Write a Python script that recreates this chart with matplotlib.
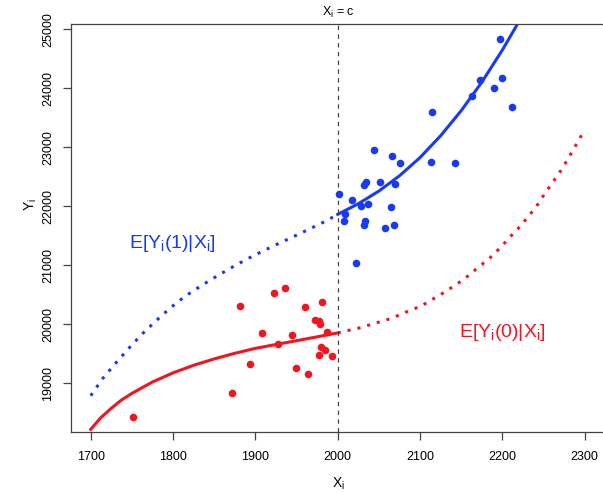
import matplotlib.pyplot as plt

plt.rcParams['font.family'] = ['Liberation Sans', 'DejaVu Sans']
plt.rcParams['mathtext.fontset'] = 'custom'
plt.rcParams['mathtext.rm'] = 'Liberation Sans'
plt.rcParams['mathtext.it'] = 'Liberation Sans'

# observations above the cutoff (treated)
blue_x = [2044, 2066, 2076, 2113, 2143, 2034, 2032, 2051, 2069, 2002,
          2017, 2028, 2037, 2065, 2009, 2008, 2033, 2032, 2057, 2068,
          2022, 2197, 2173, 2200, 2190, 2163, 2212, 2114]
blue_y = [22954, 22847, 22729, 22756, 22729, 22417, 22361, 22412, 22378, 22203,
          22102, 22005, 22034, 21983, 21864, 21756, 21756, 21688, 21637, 21688,
          21034, 24836, 24141, 24169, 24005, 23864, 23678, 23603]

# observations below the cutoff (control)
red_x = [1751, 1872, 1881, 1923, 1936, 1908, 1894, 1928, 1944, 1949,
         1960, 1964, 1981, 1972, 1977, 1978, 1987, 1980, 1985, 1977, 1993]
red_y = [18429, 18836, 20315, 20531, 20610, 19847, 19332, 19661, 19819, 19254,
         20298, 19158, 20378, 20068, 20056, 20000, 19869, 19620, 19559, 19480, 19458]

# E[Y(1)|X] : dotted left of c, solid right of c
blue_dot_x = [1700, 1714, 1729, 1745, 1762, 1779, 1796, 1815, 1836, 1856,
              1877, 1900, 1930, 1942, 1963, 1984, 2000]
blue_dot_y = [18790, 19073, 19322, 19576, 19831, 20056, 20271, 20480, 20671, 20841,
              21010, 21180, 21383, 21458, 21598, 21739, 21864]
blue_sol_x = [2000, 2025, 2050, 2075, 2100, 2125, 2150, 2175, 2200, 2219]
blue_sol_y = [21864, 22044, 22259, 22517, 22827, 23197, 23622, 24105, 24650, 25106]

# E[Y(0)|X] : solid left of c, dotted right of c
red_sol_x = [1700, 1712, 1725, 1737, 1750, 1775, 1800, 1825, 1850, 1875,
             1900, 1925, 1950, 1975, 2000]
red_sol_y = [18220, 18415, 18578, 18714, 18830, 19023, 19178, 19306, 19414, 19509,
             19593, 19658, 19723, 19788, 19855]
red_dot_x = [2000, 2011, 2023, 2034, 2046, 2058, 2069, 2080, 2091, 2102,
             2112, 2123, 2133, 2143, 2153, 2162, 2171, 2181, 2190, 2198,
             2206, 2214, 2223, 2230, 2238, 2245, 2251, 2258, 2265, 2272,
             2278, 2284, 2290, 2296]
red_dot_y = [19855, 19892, 19925, 19971, 20022, 20068, 20124, 20192, 20254, 20315,
             20400, 20485, 20576, 20666, 20763, 20864, 20971, 21078, 21192, 21310,
             21429, 21553, 21678, 21807, 21937, 22073, 22208, 22344, 22485, 22627,
             22768, 22908, 23056, 23203]

cutoff = 2000
xticks = [1700, 1800, 1900, 2000, 2100, 2200, 2300]
yticks = [19000, 20000, 21000, 22000, 23000, 24000, 25000]

BLUE = '#1a3af2'
RED = '#f2141e'

fig = plt.figure(figsize=(6.03, 4.93), dpi=100)
ax = fig.add_axes([71/603, 61/493, 533.5/603, 408/493])

ax.plot(blue_dot_x, blue_dot_y, c=BLUE, lw=2.2, ls=(0, (1, 2.3)))
ax.plot(blue_sol_x, blue_sol_y, c=BLUE, lw=2.2)
ax.plot(red_sol_x, red_sol_y, c=RED, lw=2.2)
ax.plot(red_dot_x, red_dot_y, c=RED, lw=2.2, ls=(0, (1, 2.3)))

ax.scatter(blue_x, blue_y, s=30, c=BLUE, lw=0, zorder=3)
ax.scatter(red_x, red_y, s=30, c=RED, lw=0, zorder=3)

ax.axvline(cutoff, c='#444444', lw=0.9, ls=(0, (3.5, 3.5)))

ax.text(1799, 21378, r'E[Y$_\mathregular{i}$(1)|X$_\mathregular{i}$]', color=BLUE,
        fontsize=14, ha='center', va='center')
ax.text(2200, 19853, r'E[Y$_\mathregular{i}$(0)|X$_\mathregular{i}$]', color=RED,
        fontsize=14, ha='center', va='center')

ax.set_xlim(1676, 2324)
ax.set_ylim(18175, 25090)
ax.set_xticks(xticks)
ax.set_yticks(yticks)
ax.tick_params(axis='both', labelsize=9, length=6, width=0.9, color='#444444')
ax.tick_params(axis='x', pad=8)
ax.tick_params(axis='y', pad=6)
for lab in ax.get_yticklabels():
    lab.set_rotation(90)
    lab.set_va('center')
for sp in ax.spines.values():
    sp.set_color('#444444')
    sp.set_linewidth(0.9)
ax.spines['right'].set_visible(False)

fig.text(338/603, 1 - 12/493, r'X$_\mathregular{i}$ = c', fontsize=9, ha='center', va='center')
fig.text(338/603, 1 - 484/493, r'X$_\mathregular{i}$', fontsize=10, ha='center', va='center')
fig.text(31/603, 1 - 205/493, r'Y$_\mathregular{i}$', fontsize=10, ha='center', va='center',
         rotation=90)

plt.savefig('out.png', dpi=100)
